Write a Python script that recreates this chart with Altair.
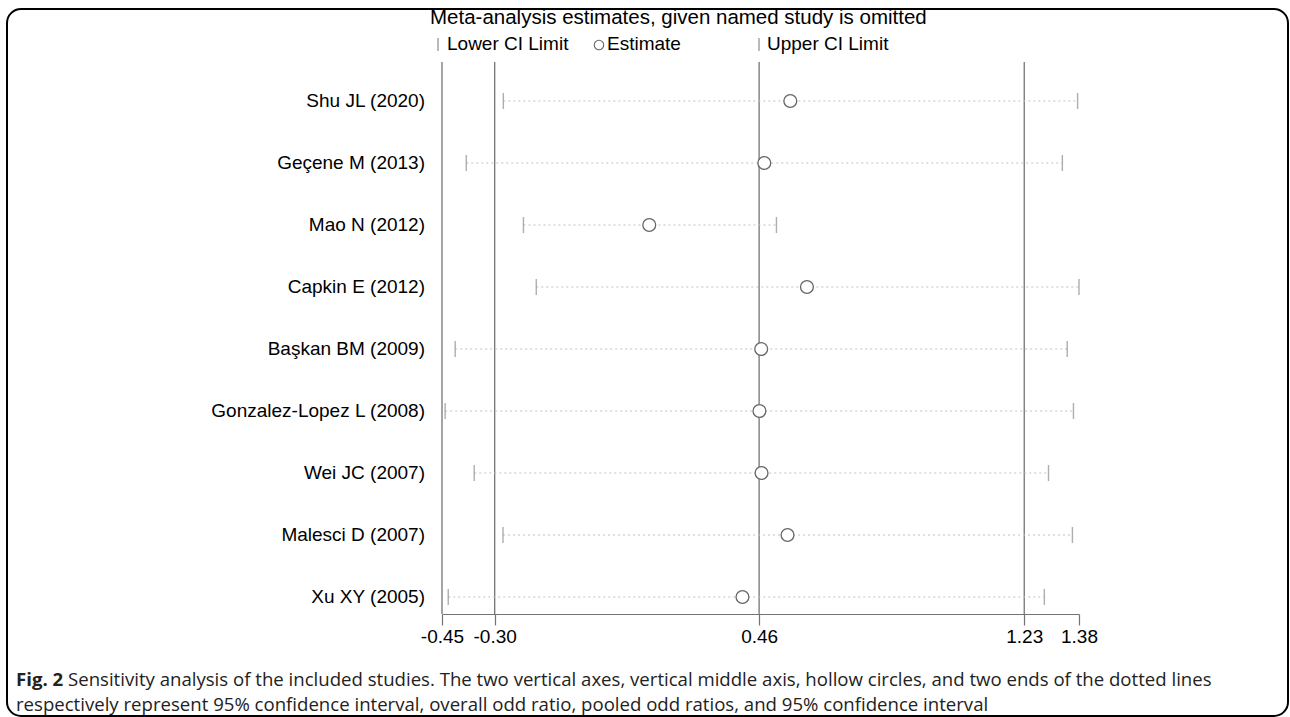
import altair as alt
import pandas as pd

# ---- data ----
studies = ["Shu JL (2020)", "Geçene M (2013)", "Mao N (2012)", "Capkin E (2012)",
           "Başkan BM (2009)", "Gonzalez-Lopez L (2008)", "Wei JC (2007)",
           "Malesci D (2007)", "Xu XY (2005)"]
estimate = [0.551, 0.476, 0.144, 0.599, 0.467, 0.462, 0.468, 0.543, 0.413]
lower_ci = [-0.277, -0.384, -0.219, -0.182, -0.416, -0.445, -0.361, -0.278, -0.436]
upper_ci = [1.380, 1.336, 0.511, 1.384, 1.350, 1.368, 1.296, 1.365, 1.284]
ref_lines = [-0.454, -0.302, 0.461, 1.226]          # axis, CI of overall estimate, estimate
tick_values = [-0.454, -0.302, 0.461, 1.226, 1.384]

title_text = "Meta-analysis estimates, given named study is omitted"
legend_labels = ["Lower CI Limit", "Estimate", "Upper CI Limit"]
caption_bold = "Fig. 2"
caption_line1 = ("Sensitivity analysis of the included studies. The two vertical axes, vertical middle axis, "
                 "hollow circles, and two ends of the dotted lines")
caption_line2 = ("respectively represent 95% confidence interval, overall odd ratio, pooled odd ratios, "
                 "and 95% confidence interval")

# ---- layout ----
LEFT, TOP = 442, 62
W, H = 637, 552
ROW0, STEP = 101, 62

df = pd.DataFrame({"study": studies, "row": list(range(len(studies))),
                   "est": estimate, "lo": lower_ci, "hi": upper_ci})
refs = pd.DataFrame({"v": ref_lines})
one = pd.DataFrame({"a": [0]})

xs = alt.Scale(domain=[-0.454, 1.384], nice=False, zero=False)
ys = alt.Scale(domain=[-(ROW0 - TOP) / STEP, (H - (ROW0 - TOP)) / STEP],
               reverse=True, nice=False, zero=False)

FONT = "Liberation Sans"
GRAY = "#747474"

xaxis = alt.Axis(values=tick_values,
                 labelExpr="datum.value < 0 ? '-' + format(-datum.value, '.2f') : format(datum.value, '.2f')",
                 labelFontSize=19, labelFont=FONT, labelColor="black",
                 tickSize=11, tickColor=GRAY, tickWidth=1.2,
                 domainColor=GRAY, domainWidth=1.2, grid=False,
                 labelFlush=False, labelOverlap=False, title=None, labelPadding=2)

vlines = alt.Chart(refs).mark_rule(color=GRAY, strokeWidth=1.3).encode(
    x=alt.X("v:Q", scale=xs, axis=xaxis),
    y=alt.value(0), y2=alt.value(H))

dotted = alt.Chart(df).mark_rule(strokeDash=[2, 3], color="#c2c2c2", strokeWidth=1.2).encode(
    x=alt.X("lo:Q", scale=xs, axis=xaxis), x2="hi:Q",
    y=alt.Y("row:Q", scale=ys, axis=None))

ci_ticks = alt.Chart(df).transform_fold(["lo", "hi"], as_=["which", "val"]).mark_tick(
    orient="vertical", size=16, thickness=1.4, color="#8c8c8c").encode(
    x=alt.X("val:Q", scale=xs, axis=xaxis),
    y=alt.Y("row:Q", scale=ys, axis=None))

points = alt.Chart(df).mark_point(shape="circle", size=165, filled=True, fill="white",
                                  stroke="#666666", strokeWidth=1.3, opacity=1).encode(
    x=alt.X("est:Q", scale=xs, axis=xaxis),
    y=alt.Y("row:Q", scale=ys, axis=None))

labels = alt.Chart(df).mark_text(align="right", baseline="middle", fontSize=19,
                                 font=FONT, color="black").encode(
    x=alt.value(425 - LEFT),
    y=alt.Y("row:Q", scale=ys, axis=None),
    text="study:N")

# ---- header: title + legend ----
title_mark = alt.Chart(one).mark_text(align="left", baseline="middle", fontSize=20.5,
                                      font=FONT, color="black", text=title_text).encode(
    x=alt.value(430 - LEFT), y=alt.value(18 - TOP))

LEG_Y = 44
LEG_FS = 19
leg_x = [447, 607, 767]
leg_texts = [alt.Chart(one).mark_text(align="left", baseline="middle", fontSize=LEG_FS, font=FONT,
                                      color="black", text=t).encode(
    x=alt.value(px - LEFT), y=alt.value(LEG_Y - TOP)) for t, px in zip(legend_labels, leg_x)]

leg_bar1 = alt.Chart(one).mark_rule(color="#8c8c8c", strokeWidth=1.2).encode(
    x=alt.value(438 - LEFT), y=alt.value(LEG_Y - 6 - TOP), y2=alt.value(LEG_Y + 7 - TOP))
leg_bar2 = alt.Chart(one).mark_rule(color="#8c8c8c", strokeWidth=1.2).encode(
    x=alt.value(759 - LEFT), y=alt.value(LEG_Y - 6 - TOP), y2=alt.value(LEG_Y + 7 - TOP))
leg_circ = alt.Chart(one).mark_point(shape="circle", size=90, filled=False,
                                     stroke="#666666", strokeWidth=1.1, opacity=1).encode(
    x=alt.value(599 - LEFT), y=alt.value(LEG_Y + 1 - TOP))

# ---- figure frame + caption ----
frame = alt.Chart(one).mark_rect(filled=False, stroke="black", strokeWidth=2,
                                 cornerRadius=14).encode(
    x=alt.value(7 - LEFT), x2=alt.value(1288 - LEFT),
    y=alt.value(9 - TOP), y2=alt.value(716 - TOP))

CAP_FONT = "Open Sans"
CAP_FS = 18.6
cap_b = alt.Chart(one).mark_text(align="left", baseline="middle", fontSize=CAP_FS, font=CAP_FONT,
                                 fontWeight="bold", color="#222222", text=caption_bold).encode(
    x=alt.value(16 - LEFT), y=alt.value(680 - TOP))
cap_1 = alt.Chart(one).mark_text(align="left", baseline="middle", fontSize=CAP_FS, font=CAP_FONT,
                                 color="#222222", text=caption_line1).encode(
    x=alt.value(68 - LEFT), y=alt.value(680 - TOP))
cap_2 = alt.Chart(one).mark_text(align="left", baseline="middle", fontSize=CAP_FS, font=CAP_FONT,
                                 color="#222222", text=caption_line2).encode(
    x=alt.value(16 - LEFT), y=alt.value(705 - TOP))

chart = alt.layer(
    vlines, dotted, ci_ticks, points, labels,
    title_mark, *leg_texts, leg_bar1, leg_bar2, leg_circ,
    frame, cap_b, cap_1, cap_2
).properties(
    width=W, height=H,
    padding={"left": LEFT, "top": TOP, "right": 1290 - LEFT - W, "bottom": 717 - TOP - H},
    autosize="none", background="white"
).configure_view(stroke=None)

chart.save("out.html", embed_options={"renderer": "svg", "actions": False})
